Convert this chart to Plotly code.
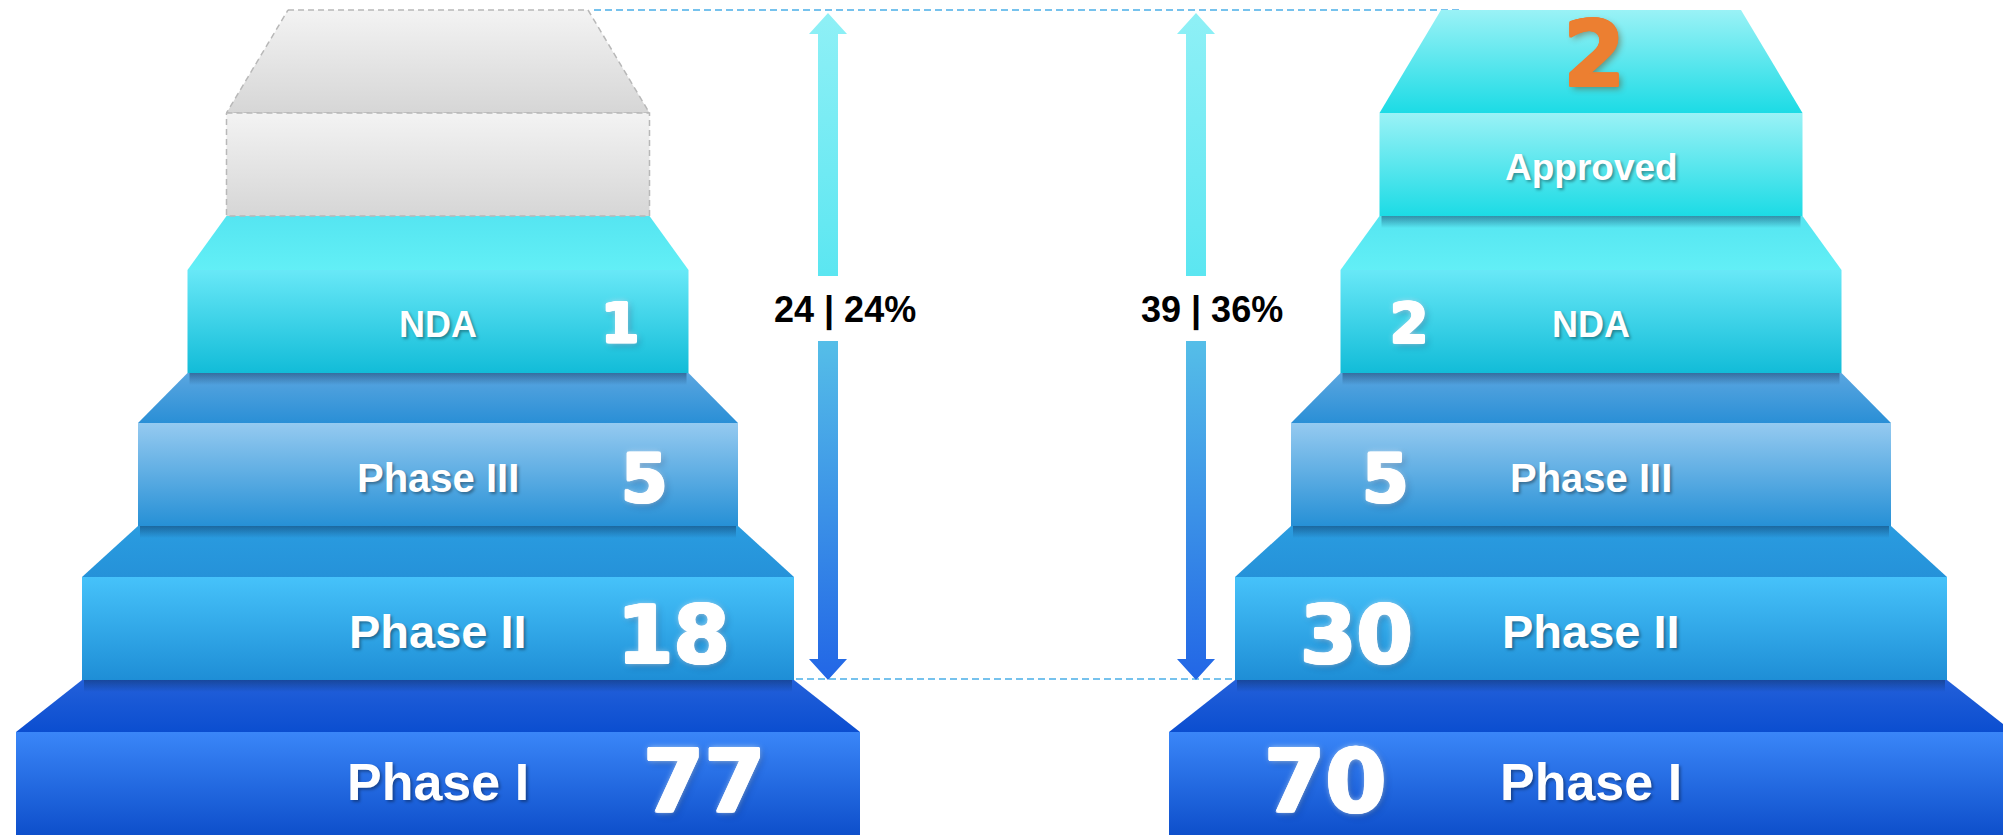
import plotly.graph_objects as go

# ---------------- data ----------------
stages_left = ["Phase I", "Phase II", "Phase III", "NDA"]
counts_left = [77, 18, 5, 1]
stages_right = ["Phase I", "Phase II", "Phase III", "NDA", "Approved"]
counts_right = [70, 30, 5, 2, 2]
summary_left = "24 | 24%"
summary_right = "39 | 36%"

# ---------------- layout parameters ----------------
W, H = 2003, 835
CX = {"L": 438, "R": 1591}
WIDTHS = [844, 712, 600, 501, 423]
CAP_W = 300
FRONT_BOTTOMS = [835, 680, 526, 373, 216]
FRONT_H = 103
CAP_TOP = 10
LABEL_SIZES = [52, 47, 40, 36, 37]
LABEL_DY = [-2, 3, 3, 3, 3]
NUM_SIZES = [88, 81, 67, 55]
NUM_DY = [-2, 6, 4, 1]
NUM_DX = [266, 235, 206, 182]
ARROW_X = {"L": 828, "R": 1196}
SUMMARY_X = {"L": 845, "R": 1212}
FONT = "Liberation Sans, Arial, sans-serif"
NUM_FONT = "DejaVu Sans, Liberation Sans, sans-serif"

FRONT_COLS = [("#3A86F8", "#0E4FCB"), ("#46C2FA", "#1E8ED6"),
              ("#95CAF0", "#2690D6"), ("#68E8F7", "#12BCD8")]
TOP_COLS = [("#2360DA", "#0B4ED0"), ("#2A9CE0", "#2592D9"),
            ("#5AA6E0", "#2A8FD6"), ("#55E5F1", "#62EFF6")]
GREY = ("#F3F3F3", "#D6D6D6")
CYAN_CAP = ("#9AF2F6", "#1CDBE5")

fig = go.Figure()


def poly(xs, ys, c_top, c_bot, line=None):
    fig.add_trace(go.Scatter(
        x=list(xs) + [xs[0]], y=list(ys) + [ys[0]], mode="lines", fill="toself",
        fillgradient=dict(type="vertical", colorscale=[[0, c_bot], [1, c_top]]),
        line=line if line else dict(width=0, color="rgba(0,0,0,0)"),
        hoverinfo="skip", showlegend=False))


def trap(cx, yt, yb, wt, wb):
    return ([cx - wt / 2, cx + wt / 2, cx + wb / 2, cx - wb / 2], [yt, yt, yb, yb])


# dashed guide lines
guide = dict(color="#4AAEE8", width=1.5, dash="7px,4px")
fig.add_trace(go.Scatter(x=[CX["L"] + CAP_W / 2 + 6, CX["R"] - CAP_W / 2 + 20], y=[CAP_TOP, CAP_TOP],
                         mode="lines", line=guide, hoverinfo="skip", showlegend=False))
fig.add_trace(go.Scatter(x=[CX["L"] + WIDTHS[1] / 2 + 2, CX["R"] - WIDTHS[1] / 2 - 3],
                         y=[FRONT_BOTTOMS[1] - 1, FRONT_BOTTOMS[1] - 1],
                         mode="lines", line=guide, hoverinfo="skip", showlegend=False))

for side in ["L", "R"]:
    cx = CX[side]
    n_levels = 5
    # top faces
    for i in range(n_levels):
        yb = FRONT_BOTTOMS[i] - FRONT_H
        if i < n_levels - 1:
            yt = FRONT_BOTTOMS[i + 1]
            wt = WIDTHS[i + 1]
            c0, c1 = TOP_COLS[i]
            ln = None
        else:
            yt = CAP_TOP
            wt = CAP_W
            if side == "L":
                c0, c1 = GREY
                ln = dict(color="#B8B8B8", width=1.5, dash="6px,4px")
            else:
                c0, c1 = CYAN_CAP
                ln = None
        xs, ys = trap(cx, yt, yb, wt, WIDTHS[i])
        poly(xs, ys, c0, c1, ln)
    # fronts
    for i in range(n_levels):
        yb = FRONT_BOTTOMS[i]
        yt = yb - FRONT_H
        if i < 4:
            c0, c1 = FRONT_COLS[i]
            ln = None
        elif side == "L":
            c0, c1 = GREY
            ln = dict(color="#B8B8B8", width=1.5, dash="6px,4px")
        else:
            c0, c1 = CYAN_CAP
            ln = None
        xs, ys = trap(cx, yt, yb, WIDTHS[i], WIDTHS[i])
        poly(xs, ys, c0, c1, ln)
    # shadows cast by fronts onto lower top faces
    for i in range(1, 4 if side == "L" else 5):
        yb = FRONT_BOTTOMS[i]
        xs, ys = trap(cx, yb, yb + 12, WIDTHS[i] - 4, WIDTHS[i] - 4)
        poly(xs, ys, "rgba(10,40,80,0.45)", "rgba(10,40,80,0)")

    # arrows
    ax = ARROW_X[side]
    xs = [ax, ax + 19, ax + 10, ax + 10, ax - 10, ax - 10, ax - 19]
    ys = [13, 34, 34, 276, 276, 34, 34]
    poly(xs, ys, "#8FF0F6", "#5BE6F1")
    ys2 = [680, 659, 659, 341, 341, 659, 659]
    poly(xs, ys2, "#55BEE8", "#2266E6")

# ---------------- text ----------------
ann = []
label_shadow = "2px 2px 3px rgba(0,0,0,0.35)"


def thick(color, d=1.4):
    h = round(d * 0.7, 2)
    return ", ".join([f"{d}px 0px 0px {color}", f"-{d}px 0px 0px {color}", f"0px {d}px 0px {color}",
                      f"0px -{d}px 0px {color}", f"{h}px {h}px 0px {color}", f"-{h}px -{h}px 0px {color}",
                      f"{h}px -{h}px 0px {color}", f"-{h}px {h}px 0px {color}"])


num_shadow = thick("#FFFFFF") + ", 0px 0px 6px rgba(215,235,250,0.95), 3px 3px 7px rgba(0,30,80,0.35)"
orange_shadow = thick("#EC7F31", 1.0) + ", 3px 3px 6px rgba(110,50,0,0.45)"


def label_y(i):
    return FRONT_BOTTOMS[i] - FRONT_H / 2 + LABEL_DY[i]


for side, stages, counts in [("L", stages_left, counts_left), ("R", stages_right, counts_right)]:
    cx = CX[side]
    sgn = 1 if side == "L" else -1
    for i, name in enumerate(stages):
        ann.append(dict(x=cx, y=label_y(i), text=name, showarrow=False, xanchor="center", yanchor="middle",
                        font=dict(family=FONT, size=LABEL_SIZES[i], color="white", weight="bold",
                                  shadow=label_shadow)))
    for i in range(4):
        ann.append(dict(x=cx + sgn * NUM_DX[i], y=FRONT_BOTTOMS[i] - FRONT_H / 2 + NUM_DY[i],
                        text=str(counts[i]), showarrow=False, xanchor="center", yanchor="middle",
                        font=dict(family=NUM_FONT, size=NUM_SIZES[i], color="white", weight="bold",
                                  shadow=num_shadow)))

ann.append(dict(x=CX["R"] + 3, y=0, text=str(counts_right[4]),
                showarrow=False, xanchor="center", yanchor="top",
                font=dict(family=NUM_FONT, size=90, color="#EC7F31", weight="bold",
                          shadow=orange_shadow)))

for side, txt in [("L", summary_left), ("R", summary_right)]:
    ann.append(dict(x=SUMMARY_X[side], y=310, text=txt, showarrow=False, xanchor="center", yanchor="middle",
                    font=dict(family=FONT, size=36, color="black", weight="bold")))

fig.update_layout(
    width=W, height=H, margin=dict(l=0, r=0, t=0, b=0),
    paper_bgcolor="white", plot_bgcolor="white",
    xaxis=dict(range=[0, W], visible=False, fixedrange=True),
    yaxis=dict(range=[H, 0], visible=False, fixedrange=True),
    annotations=ann, showlegend=False,
)
fig.write_html("out.html", config={"displayModeBar": False},
               post_script="document.body.style.margin='0px';document.body.style.overflow='hidden';")
